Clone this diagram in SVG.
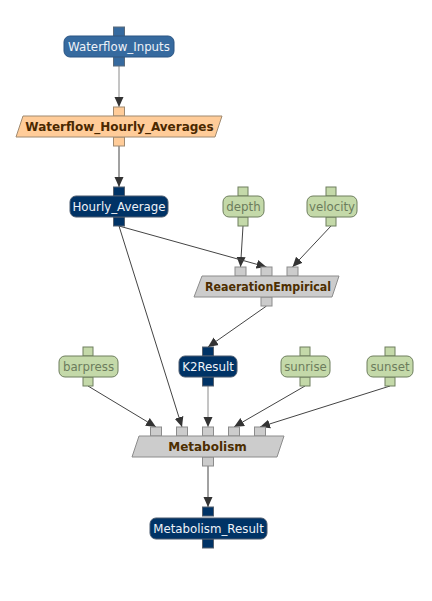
<svg xmlns="http://www.w3.org/2000/svg" width="432" height="601" viewBox="0 0 432 601">
<style>
text{font-family:"DejaVu Sans","Liberation Sans",sans-serif;text-anchor:middle}
.lbl{font-size:11.8px}
.bold{font-size:12px;font-weight:bold}
.blue rect{fill:#366a9f;stroke:#2b5583;stroke-width:1}
.blue .p{stroke:#5a6a7a}
.navy rect{fill:#003366;stroke:#4a5a6e;stroke-width:1}
.navy .p{stroke:#55606e}
.blue text,.navy text{fill:#eef2f8}
.green rect{fill:#c4d9a9;stroke:#6f7f5f;stroke-width:1}
.green text{fill:#6c7c5c}
.peach polygon,.peach rect{fill:#ffcc99;stroke:#a08a70;stroke-width:1}
.peach text{fill:#4a2800}
.gray polygon,.gray rect{fill:#cccccc;stroke:#8c8c8c;stroke-width:1}
.gray text{fill:#4d2e00}
.c{fill:none;stroke:#444;stroke-width:1}
.c.l{stroke:#8a8a8a}
</style>
<defs>
<marker id="ah" markerUnits="userSpaceOnUse" markerWidth="10" markerHeight="10" viewBox="0 0 10 10" refX="10" refY="5" orient="auto">
<path d="M0,0.5 L10,5 L0,9.5 Z" fill="#333"/>
</marker>
</defs>
<g id="connectors">
<line class="c l" x1="119" y1="66" x2="119" y2="107" marker-end="url(#ah)"/>
<line class="c" x1="119" y1="146" x2="119" y2="187" marker-end="url(#ah)"/>
<line class="c" x1="243" y1="226" x2="240.5" y2="267" marker-end="url(#ah)"/>
<line class="c" x1="119" y1="226" x2="266.5" y2="267" marker-end="url(#ah)"/>
<line class="c" x1="331" y1="226" x2="292.5" y2="267" marker-end="url(#ah)"/>
<line class="c" x1="266.5" y1="306" x2="208" y2="347" marker-end="url(#ah)"/>
<line class="c" x1="88" y1="386" x2="156" y2="427" marker-end="url(#ah)"/>
<line class="c" x1="119" y1="226" x2="182" y2="427" marker-end="url(#ah)"/>
<line class="c l" x1="208" y1="386" x2="208" y2="427" marker-end="url(#ah)"/>
<line class="c" x1="305" y1="386" x2="234" y2="427" marker-end="url(#ah)"/>
<line class="c" x1="390" y1="386" x2="260" y2="427" marker-end="url(#ah)"/>
<line class="c" x1="208" y1="466" x2="208" y2="507" marker-end="url(#ah)"/>
</g>
<g id="Waterflow_Inputs" class="blue">
<rect class="p" x="113.5" y="27" width="11" height="9"/>
<rect class="p" x="113.5" y="57" width="11" height="9"/>
<rect x="64" y="36" width="110" height="21" rx="6"/>
<text class="lbl" x="119" y="50.7">Waterflow_Inputs</text>
</g>
<g id="Waterflow_Hourly_Averages" class="peach">
<rect x="113.5" y="107" width="11" height="9"/>
<rect x="113.5" y="137" width="11" height="9"/>
<polygon points="23,116 222,116 215,137 16,137"/>
<text class="bold" x="119.5" y="131">Waterflow_Hourly_Averages</text>
</g>
<g id="Hourly_Average" class="navy">
<rect class="p" x="113.5" y="187" width="11" height="9"/>
<rect class="p" x="113.5" y="217" width="11" height="9"/>
<rect x="70" y="196" width="98" height="21" rx="6"/>
<text class="lbl" x="119" y="210.7">Hourly_Average</text>
</g>
<g id="depth" class="green">
<rect x="238" y="187" width="10" height="9"/>
<rect x="238" y="217" width="10" height="9"/>
<rect x="223" y="196" width="41" height="21" rx="6"/>
<text class="lbl" x="243.5" y="210.7">depth</text>
</g>
<g id="velocity" class="green">
<rect x="326" y="187" width="10" height="9"/>
<rect x="326" y="217" width="10" height="9"/>
<rect x="307" y="196" width="50" height="21" rx="6"/>
<text class="lbl" x="332" y="210.7">velocity</text>
</g>
<g id="ReaerationEmpirical" class="gray">
<rect x="235" y="267" width="11" height="9"/>
<rect x="261" y="267" width="11" height="9"/>
<rect x="287" y="267" width="11" height="9"/>
<rect x="261" y="297" width="11" height="9"/>
<polygon points="202,276 339,276 332,297 194,297"/>
<text class="bold" x="268" y="291" textLength="126" lengthAdjust="spacingAndGlyphs">ReaerationEmpirical</text>
</g>
<g id="barpress" class="green">
<rect x="83" y="347" width="10" height="9"/>
<rect x="83" y="377" width="10" height="9"/>
<rect x="59" y="356" width="59" height="21" rx="6"/>
<text class="lbl" x="88.5" y="370.7">barpress</text>
</g>
<g id="K2Result" class="navy">
<rect class="p" x="202.5" y="347" width="11" height="9"/>
<rect class="p" x="202.5" y="377" width="11" height="9"/>
<rect x="179" y="356" width="58" height="21" rx="6"/>
<text class="lbl" x="208" y="370.7">K2Result</text>
</g>
<g id="sunrise" class="green">
<rect x="300" y="347" width="10" height="9"/>
<rect x="300" y="377" width="10" height="9"/>
<rect x="281" y="356" width="49" height="21" rx="6"/>
<text class="lbl" x="305.5" y="370.7">sunrise</text>
</g>
<g id="sunset" class="green">
<rect x="385" y="347" width="10" height="9"/>
<rect x="385" y="377" width="10" height="9"/>
<rect x="367" y="356" width="46" height="21" rx="6"/>
<text class="lbl" x="390" y="370.7">sunset</text>
</g>
<g id="Metabolism" class="gray">
<rect x="150.5" y="427" width="11" height="9"/>
<rect x="176.5" y="427" width="11" height="9"/>
<rect x="202.5" y="427" width="11" height="9"/>
<rect x="228.5" y="427" width="11" height="9"/>
<rect x="254.5" y="427" width="11" height="9"/>
<rect x="202.5" y="457" width="11" height="9"/>
<polygon points="139,436 284,436 277,457 132,457"/>
<text class="bold" x="207.5" y="451">Metabolism</text>
</g>
<g id="Metabolism_Result" class="navy">
<rect class="p" x="202.5" y="507" width="11" height="9"/>
<rect class="p" x="202.5" y="539" width="11" height="9"/>
<rect x="150" y="518" width="117" height="21" rx="6"/>
<text class="lbl" x="208.5" y="532.7">Metabolism_Result</text>
</g>
</svg>
